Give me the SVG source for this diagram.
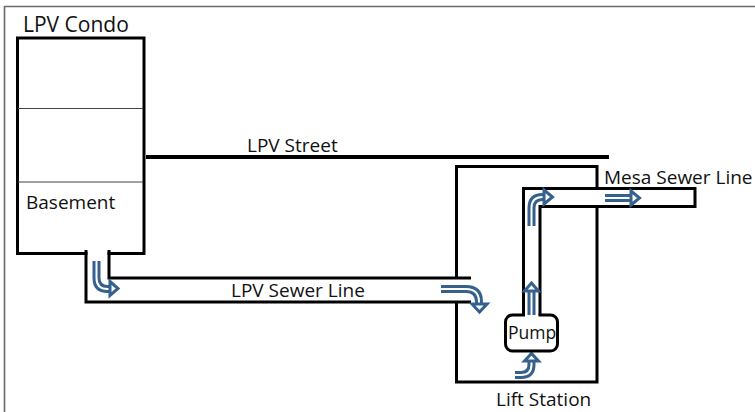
<svg xmlns="http://www.w3.org/2000/svg" width="755" height="412" viewBox="0 0 755 412">
<style>
.w{fill:none;stroke:#000;stroke-width:3;stroke-linejoin:miter}
.t{font-family:"Open Sans","Noto Sans","DejaVu Sans",sans-serif;font-size:19px;fill:#111}
.a{fill:none;stroke:#35618f;stroke-width:8}
.b{fill:none;stroke:#fff;stroke-width:2}
.h{fill:#fff;stroke:#35618f;stroke-width:3}
</style>
<rect width="755" height="412" fill="#fff"/>
<path id="frame" d="M755,6.500H4.500V412" fill="none" stroke="#6a6a6a" stroke-width="1.600"/>
<g id="condo">
<rect class="w" x="17.500" y="38" width="126.500" height="215.500"/>
<path d="M18,108.500H143M18,182H143" stroke="#444" stroke-width="1" fill="none"/>
<rect x="87.500" y="250" width="20" height="6" fill="#fff"/>
<text class="t" x="23" y="32" style="font-size:21px">LPV Condo</text>
<text class="t" x="26" y="209">Basement</text>
</g>
<g id="street">
<path d="M146,157H609" stroke="#000" stroke-width="4" fill="none"/>
<text class="t" x="247" y="152">LPV Street</text>
</g>
<g id="lift-station">
<path class="w" d="M456.500,278V166.500H597V382H456.500V302"/>
<text class="t" x="496" y="406">Lift Station</text>
</g>
<g id="connectors">
<path class="w" d="M86,250V302H471M109,250V278H471"/>
<rect x="524" y="189.500" width="170" height="16" fill="#fff"/>
<rect x="524" y="189.500" width="15" height="125" fill="#fff"/>
<path class="w" d="M523.500,315V188.500H695V206.500H540V315"/>
<g id="flow-arrows">
<path class="a" d="M96.500,261V278Q96.500,289 107.500,289H112"/><path class="b" d="M96.500,261V278Q96.500,289 107.500,289H112"/>
<path class="h" d="M110,281.500L118,288.500L110,295.500Z"/>
<path class="a" d="M441,289H466Q479,289 479,302V306"/><path class="b" d="M441,289H466Q479,289 479,302V306"/>
<path class="h" d="M472,304L479.500,312L487,304Z"/>
<path class="a" d="M531.500,315V288"/><path class="b" d="M531.500,315V288"/>
<path class="h" d="M524.500,291L531.500,283L538.500,291Z"/>
<path class="a" d="M515,375H521Q531.500,375 531.500,364.500V358"/><path class="b" d="M515,375H521Q531.500,375 531.500,364.500V358"/>
<path class="h" d="M524.500,361L531.500,353.500L538.500,361Z"/>
<path class="a" d="M531.500,226V208Q531.500,197 542.500,197H546"/><path class="b" d="M531.500,226V208Q531.500,197 542.500,197H546"/>
<path class="h" d="M544,190L552.500,197L544,204Z"/>
<path class="a" d="M605,198H634"/><path class="b" d="M605,198H634"/>
<path class="h" d="M631,191L639.500,198L631,205Z"/>
</g>
</g>
<g id="pump">
<path d="M525,315H512.500A7,7 0 0 0 505.500,322V344A7,7 0 0 0 512.500,351H550.500A7,7 0 0 0 557.500,344V322A7,7 0 0 0 550.500,315H538.500" fill="none" stroke="#000" stroke-width="3"/>
<text class="t" x="508" y="339" style="font-size:17.500px">Pump</text>
</g>
<text id="lpv-sewer-label" class="t" x="231" y="297">LPV Sewer Line</text>
<text id="mesa-sewer-label" class="t" x="604" y="184">Mesa Sewer Line</text>
</svg>
